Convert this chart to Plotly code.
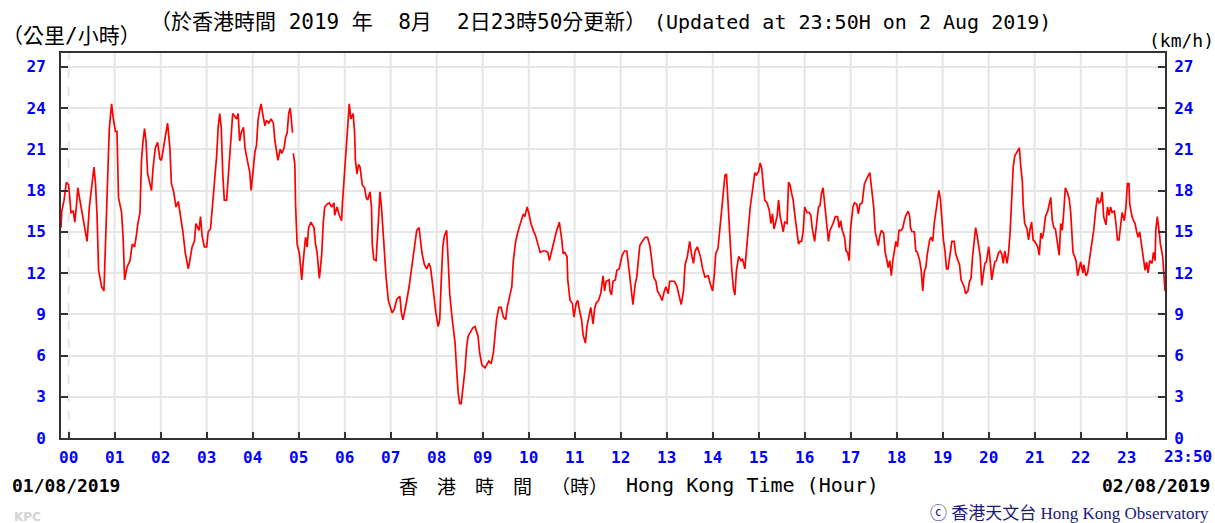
import plotly.graph_objects as go

# ---- data: minutes after 00:00 on 02/08/2019 (negative = 01/08) and 10-min mean wind speed (km/h)
minutes_a = [-10, -9, -6, -3, 0, 1, 3, 6, 8, 10, 12, 14, 16, 21, 24, 27, 30, 33, 35, 37, 39, 43, 46, 47, 49,
             51, 53, 56, 58, 61, 63, 65, 69, 71, 73, 76, 80, 83, 86, 88, 90, 93, 95, 97, 99, 101, 103, 106,
             108, 110, 113, 116, 119, 121, 123, 126, 129, 132, 134, 137, 140, 143, 146, 149, 152, 156, 158,
             161, 164, 166, 170, 172, 174, 177, 180, 182, 185, 187, 190, 193, 195, 197, 199, 201, 203, 206,
             208, 210, 212, 214, 219, 221, 223, 225, 228, 230, 233, 236, 238, 240, 243, 245, 247, 249, 251,
             253, 256, 258, 261, 264, 267, 269, 271, 273, 276, 278, 281, 283, 285, 287, 289, 291, 292, 292.5,
             293, 295, 296, 298, 301, 304, 306, 309, 311, 313, 316, 320, 322, 324, 327, 330, 332, 334, 337,
             340, 343, 346]
speed_a = [15.3, 16.5, 17.3, 18.6, 18.4, 17.5, 16.4, 16.5, 15.7, 16.8, 18.2, 17.5, 16.8, 15.1, 14.3, 16.8,
           18.5, 19.7, 18.5, 16.2, 12.2, 11.0, 10.7, 12.4, 16.1, 20.2, 22.5, 24.3, 23.3, 22.3, 22.3, 17.5,
           16.4, 14.6, 11.5, 12.4, 12.9, 14.1, 13.9, 14.6, 15.5, 16.4, 20.2, 21.6, 22.5, 21.5, 19.2, 18.5,
           18.0, 19.6, 21.1, 21.5, 20.3, 20.2, 20.9, 22.1, 22.9, 21.1, 18.5, 17.9, 16.8, 17.2, 16.1, 15.0,
           13.5, 12.3, 12.9, 13.9, 14.3, 15.6, 15.1, 16.1, 14.7, 13.9, 13.9, 15.0, 15.2, 16.8, 18.5, 20.5,
           22.6, 23.6, 22.6, 19.2, 17.3, 17.3, 19.0, 20.9, 22.6, 23.6, 23.2, 23.6, 21.6, 22.2, 22.6, 21.1,
           20.2, 19.4, 18.0, 19.0, 20.8, 21.3, 23.1, 23.8, 24.3, 23.6, 22.7, 23.1, 22.9, 23.2, 22.9, 21.6,
           20.9, 20.2, 21.0, 20.7, 21.1, 21.9, 22.2, 23.6, 24.0, 22.6, 22.2, None,
           20.7, 19.9, 16.9, 14.1, 13.4, 11.5, 12.9, 14.6, 13.9, 15.3, 15.7, 15.3, 14.1, 13.5, 11.6, 13.3,
           15.6, 16.8, 17.0, 17.1, 16.8, 17.1]

minutes_b = [347, 350, 353, 356, 357, 359, 360, 362, 364, 366, 368, 371, 373, 374, 376, 378, 380, 383, 386,
             388, 390, 393, 395, 396, 398, 401, 404, 406, 408, 410, 412, 414, 417, 420, 422, 425, 428, 432,
             434, 436, 438, 441, 444, 447, 450, 453, 454, 457, 459, 461, 464, 467, 470, 472, 474, 477, 479,
             482, 484, 486, 488, 490, 493, 495, 497, 500, 504, 506, 508, 510, 512, 514, 517, 519, 521, 524,
             527, 530, 534, 536, 539, 543, 545, 548, 551, 554, 556, 558, 561, 564, 567, 570, 572, 575, 578,
             580, 583, 586, 589, 593, 595, 598, 600, 603, 606, 609, 612, 615, 619, 622, 625, 627, 630, 633,
             636, 639, 640, 643, 645, 647, 650, 651, 654, 657, 659, 662, 664, 667, 669, 671, 674, 676, 679,
             681, 684, 686, 688, 691, 694, 696, 697, 699, 701, 705]
speed_b = [16.2, 16.8, 16.2, 15.8, 17.0, 18.6, 19.6, 21.1, 23.1, 24.3, 23.2, 23.6, 22.2, 20.2, 19.2, 19.9,
           19.7, 18.4, 18.2, 17.5, 17.3, 17.9, 16.8, 14.1, 13.0, 12.9, 15.8, 17.9, 16.8, 15.0, 13.4, 11.7,
           10.0, 9.4, 9.1, 9.4, 10.1, 10.3, 9.1, 8.6, 9.1, 10.0, 11.0, 12.2, 13.4, 14.4, 15.1, 15.3, 14.4,
           13.4, 12.6, 12.3, 12.7, 12.4, 11.5, 10.0, 9.1, 8.1, 8.6, 11.5, 13.9, 14.7, 15.1, 12.9, 10.5, 8.8,
           6.9, 5.0, 3.3, 2.5, 2.5, 3.5, 5.0, 6.6, 7.4, 7.7, 8.0, 8.1, 7.4, 6.2, 5.3, 5.1, 5.3, 5.6, 5.4,
           6.2, 7.4, 8.6, 9.5, 9.5, 8.8, 8.6, 9.5, 10.3, 11.0, 12.9, 14.3, 15.0, 15.5, 16.3, 16.1, 16.8,
           16.4, 15.6, 15.1, 14.7, 14.1, 13.5, 13.6, 13.6, 13.5, 12.9, 13.6, 14.4, 15.0, 15.5, 15.7, 14.5,
           13.4, 13.5, 13.2, 11.5, 10.0, 9.8, 8.8, 9.8, 10.0, 9.1, 8.6, 7.5, 6.9, 8.1, 9.1, 9.5, 8.3, 9.4,
           9.8, 10.0, 10.5, 11.5, 11.8, 10.7, 11.4, 11.5]

minutes_c = [706, 708, 710, 713, 715, 718, 720, 722, 725, 728, 731, 734, 736, 739, 741, 743, 745, 748, 752,
             755, 758, 760, 763, 766, 768, 771, 774, 777, 779, 782, 784, 787, 790, 793, 796, 799, 802, 804,
             807, 810, 813, 815, 817, 820, 824, 827, 830, 834, 837, 840, 842, 844, 847, 850, 852, 854, 856,
             858, 860, 863, 865, 867, 869, 871, 874, 877, 879, 882, 884, 887, 889, 891, 893, 895, 897, 900,
             902, 904, 906, 908, 911, 914, 916, 918, 920, 924, 926, 928, 930, 932, 934, 937, 939, 941, 943,
             945, 947, 950, 952, 954, 956, 958, 960, 963, 966, 968, 970, 973, 975, 978, 980, 982, 984, 987,
             989, 991, 993, 995, 997, 1000, 1003, 1005, 1007, 1009, 1012, 1014, 1016, 1018, 1020, 1023,
             1025, 1028, 1030, 1032, 1035, 1038, 1040, 1043, 1045, 1047, 1050, 1052, 1054, 1056, 1058,
             1060, 1063]
speed_c = [10.7, 10.4, 11.4, 11.5, 12.2, 12.3, 12.9, 13.3, 13.6, 13.6, 12.2, 10.7, 9.7, 11.2, 11.7, 12.9,
           14.0, 14.3, 14.6, 14.6, 14.0, 13.2, 11.7, 11.4, 10.7, 10.4, 10.0, 10.7, 11.0, 10.5, 11.4, 11.4,
           11.4, 11.1, 10.5, 9.7, 10.7, 12.6, 13.2, 14.3, 13.2, 12.7, 13.6, 13.9, 13.2, 12.3, 11.7, 11.8,
           11.2, 10.7, 11.8, 13.4, 13.8, 15.7, 16.9, 18.2, 19.1, 19.2, 16.8, 14.1, 12.2, 10.9, 10.4, 12.2,
           13.2, 12.9, 13.0, 12.3, 13.6, 15.8, 16.8, 17.6, 18.4, 19.3, 19.1, 19.4, 20.0, 19.6, 18.4, 17.3,
           17.1, 16.5, 15.6, 16.3, 15.2, 16.1, 17.3, 16.1, 15.6, 15.0, 15.7, 15.6, 18.6, 18.4, 17.8, 17.3,
           16.3, 14.7, 14.1, 14.3, 14.3, 15.0, 16.8, 16.4, 16.4, 16.2, 15.2, 14.3, 15.3, 16.8, 16.9, 17.8,
           18.2, 16.3, 15.1, 14.3, 15.1, 15.3, 15.6, 16.1, 16.1, 15.3, 15.8, 15.1, 14.6, 13.6, 13.5, 12.9,
           15.3, 16.8, 17.1, 17.0, 16.3, 17.0, 17.1, 18.5, 18.8, 19.1, 19.3, 18.4, 16.8, 15.0, 14.6, 14.0,
           14.7, 15.1, 14.9]

minutes_d = [1065, 1067, 1069, 1071, 1073, 1075, 1077, 1079, 1081, 1083, 1086, 1088, 1090, 1092, 1095,
             1097, 1098, 1100, 1103, 1105, 1107, 1110, 1112, 1114, 1116, 1118, 1120, 1123, 1125, 1127,
             1129, 1131, 1133, 1135, 1137, 1139, 1141, 1143, 1145, 1147, 1150, 1152, 1155, 1157, 1160,
             1162, 1164, 1166, 1168, 1170, 1173, 1175, 1177, 1179, 1181, 1183, 1185, 1187, 1189, 1191,
             1193, 1195, 1197, 1200, 1202, 1204, 1206, 1208, 1210, 1213, 1215, 1217, 1219, 1221, 1224,
             1226, 1228, 1230, 1232, 1234, 1237, 1239, 1240, 1242, 1244, 1245, 1247, 1250, 1252, 1254,
             1256, 1258, 1260, 1264, 1266, 1268, 1270, 1272, 1274, 1277, 1279, 1281, 1283, 1285, 1287,
             1290, 1292, 1294, 1296, 1298, 1300, 1303, 1305, 1307, 1310, 1312, 1314, 1316, 1318, 1320,
             1323, 1324, 1327, 1329, 1331, 1333, 1335, 1337, 1340, 1342, 1344, 1346, 1348, 1350, 1353,
             1355, 1357, 1359, 1361, 1364, 1366, 1368, 1370, 1372, 1374, 1377, 1379, 1381, 1383, 1384,
             1387, 1389, 1391, 1393, 1395, 1397, 1400, 1402, 1404, 1406, 1408, 1410, 1413, 1415, 1417,
             1418, 1420, 1423, 1424, 1427, 1429, 1430]
speed_d = [13.5, 13.0, 12.4, 12.9, 11.8, 12.9, 13.6, 14.3, 13.9, 15.1, 15.1, 15.3, 15.8, 16.2, 16.5, 16.1,
           15.3, 15.0, 15.0, 13.6, 13.5, 12.9, 12.2, 10.7, 12.1, 12.4, 13.4, 14.4, 14.6, 14.3, 15.6, 16.5,
           17.5, 18.0, 17.4, 15.8, 14.4, 13.6, 12.3, 12.3, 13.6, 14.3, 14.3, 13.4, 12.9, 12.6, 11.5, 11.2,
           11.0, 10.5, 10.7, 11.4, 11.6, 13.2, 14.5, 15.3, 14.7, 13.8, 13.2, 11.1, 12.0, 12.7, 12.8, 13.9,
           12.9, 11.5, 12.2, 12.8, 12.9, 13.5, 13.6, 13.4, 12.7, 13.6, 12.7, 13.5, 15.0, 17.0, 19.7, 20.5,
           20.8, 21.1, 21.1, 19.7, 18.6, 17.0, 15.6, 15.2, 14.4, 15.2, 15.7, 14.4, 14.3, 13.9, 13.3, 14.9,
           14.5, 15.1, 16.1, 16.5, 16.9, 17.5, 15.8, 15.3, 15.2, 14.0, 13.3, 15.6, 15.1, 16.5, 18.2, 17.8,
           17.4, 16.4, 13.5, 13.2, 12.9, 11.8, 12.4, 12.8, 12.0, 12.6, 11.8, 12.0, 12.8, 13.5, 14.4, 15.1,
           16.8, 17.5, 17.1, 17.2, 17.9, 16.1, 15.5, 16.8, 16.2, 16.8, 16.4, 16.5, 15.6, 14.4, 14.4, 15.3,
           16.4, 15.8, 16.8, 18.5, 18.5, 17.0, 16.1, 15.8, 15.6, 15.0, 14.6, 15.0, 13.9, 12.9, 12.2, 12.8,
           12.0, 12.9, 12.7, 13.5, 12.9, 15.1, 16.1, 14.7, 14.1, 13.2, 11.7, 10.7]

minutes = minutes_a + minutes_b + minutes_c + minutes_d
speeds = speed_a + speed_b + speed_c + speed_d

hour_ticks = list(range(24))
hour_labels = ["%02d" % h for h in hour_ticks]
end_label = "23:50"
y_ticks = list(range(0, 28, 3))
start_date = "01/08/2019"
end_date = "02/08/2019"

# ---- geometry helpers (pixels -> paper)
W, H = 1215, 523
L, R, T, B = 61, 1165, 53, 438
def px(x):
    return (x - L) / (R - L)
def py(y):
    return (B - y) / (B - T)

BLUE = "#0000ff"
MONO = "DejaVu Sans Mono, Noto Sans CJK TC"
tickfont = dict(family="DejaVu Sans Mono", size=16, color=BLUE, weight="bold")

fig = go.Figure()
fig.add_trace(go.Scatter(x=[m / 60 for m in minutes], y=speeds, mode="lines",
                         line=dict(color="#ff0000", width=1.7), connectgaps=False,
                         showlegend=False, hoverinfo="skip"))
fig.add_trace(go.Scatter(x=[None], y=[None], yaxis="y2", showlegend=False, hoverinfo="skip"))

shapes = []
for h in hour_ticks:
    shapes.append(dict(type="line", xref="x", yref="paper", x0=h, x1=h, y0=0, y1=1, layer="below",
                       line=dict(color="#e6e6e6", width=2, dash="dash" if h == 0 else "solid")))

axis_common = dict(showline=True, linecolor="#333333", linewidth=2, ticks="inside",
                   tickcolor="#333333", tickwidth=2, zeroline=False, tickfont=tickfont)

fig.update_layout(
    width=W, height=H,
    margin=dict(l=L, r=W - R, t=T, b=H - B, pad=0),
    paper_bgcolor="white", plot_bgcolor="white",
    showlegend=False,
    shapes=shapes,
    xaxis=dict(range=[-10 / 60, 1430 / 60], tickmode="array",
               tickvals=hour_ticks + [1430 / 60], ticktext=hour_labels + [""],
               showgrid=False, mirror=True, ticklen=6, ticklabelstandoff=4, **axis_common),
    yaxis=dict(range=[0, 28], tickmode="array", tickvals=y_ticks, ticktext=[str(v) for v in y_ticks],
               showgrid=True, gridcolor="#e6e6e6", gridwidth=2, mirror=True, ticklen=7,
               ticklabelstandoff=10, **axis_common),
    yaxis2=dict(range=[0, 28], overlaying="y", side="right", tickmode="array", tickvals=y_ticks,
                ticktext=[str(v) for v in y_ticks], showgrid=False, ticklen=7,
                ticklabelstandoff=4, **axis_common),
)

def ann(text, x, y, xanchor="left", size=18, family=MONO, color="black", weight="normal"):
    fig.add_annotation(text=text, x=px(x), y=py(y), xref="paper", yref="paper",
                       xanchor=xanchor, yanchor="middle", showarrow=False,
                       font=dict(family=family, size=size, color=color, weight=weight))

ann("（公里/小時）", 71, 36, xanchor="center", size=21)
ann("（於香港時間 2019 年  8月  2日23時50分更新）", 148, 22, size=21)
ann("(Updated at 23:50H on 2 Aug 2019)", 652, 22, size=20, family="DejaVu Sans Mono")
ann("(km/h)", 1147, 40, size=18, family="DejaVu Sans Mono")
ann(end_label, 1162, 457, size=16, family="DejaVu Sans Mono", color=BLUE, weight="bold")
ann(start_date, 10, 485, size=18, family="DejaVu Sans Mono", weight="bold")
ann(end_date, 1212, 485, xanchor="right", size=18, family="DejaVu Sans Mono", weight="bold")
ann("香\u2003港\u2003時\u2003間\u2003（時）", 610, 485, xanchor="right", size=19,
    family="Noto Sans CJK TC")
ann("Hong Kong Time (Hour)", 624, 485, size=20, family="DejaVu Sans Mono")
ann("KPC", 12, 517, size=12, family="DejaVu Sans", color="#d4d4d4", weight="bold")
ann("ⓒ 香港天文台 Hong Kong Observatory", 1211, 513, xanchor="right", size=17,
    family="Liberation Serif, Noto Sans CJK TC", color="#1a1a7a")

fig.write_html("out.html", config={"displayModeBar": False, "staticPlot": True},
               post_script="document.body.style.margin='0';document.body.style.padding='0';"
                           "document.documentElement.style.overflow='hidden';")
